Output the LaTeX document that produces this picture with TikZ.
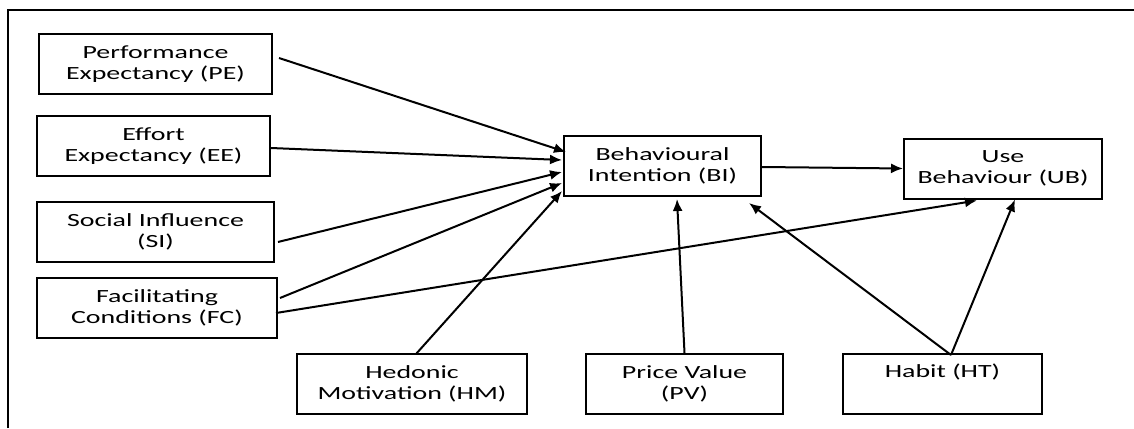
\documentclass[tikz,border=0pt]{standalone}
\usepackage{fontspec}
\setmainfont{Carlito}[FakeStretch=1.5]
\usetikzlibrary{arrows.meta,calc,scopes}

\begin{document}
\begin{tikzpicture}[x=0.5pt,y=-0.5pt,
    box/.style={rectangle,draw=black,line width=1pt,minimum height=30pt,inner sep=0pt,align=center,font=\fontsize{9.3}{10.5}\selectfont},
    link/.style={line width=1pt,-{Latex[length=6pt,width=5pt]}}]
        \useasboundingbox (0,0) rectangle (1134,428);
        \draw[line width=1pt] (8,428) -- (8,10) -- (1134,10);

        \node[box,minimum width=116.5pt] (pe) at (155.5,64) {Performance\\Expectancy (PE)};
        \node[box,minimum width=116.5pt] (ee) at (153.5,146) {Effort\\Expectancy (EE)};
        \node[box,minimum width=118.5pt] (si) at (155.5,232) {Social Influence\\(SI)};
        \node[box,minimum width=120pt] (fc) at (157,308) {Facilitating\\Conditions (FC)};
        \node[box,minimum width=115pt] (hm) at (412,384) {Hedonic\\Motivation (HM)};
        \node[box,minimum width=98.5pt] (pv) at (684.5,384) {Price Value\\(PV)};
        \node[box,minimum width=99.5pt] (ht) at (942.5,384) {Habit (HT)\\\strut};
        \node[box,minimum width=98.5pt] (bi) at (662.5,166) {Behavioural\\Intention (BI)};
        \node[box,minimum width=99pt] (ub) at (1003,168.5) {Use\\Behaviour (UB)};

        {[link]
        \draw ($(pe.east)+(6,-6)$) -- ($(bi.west)+(3,-14)$);
        \draw ($(ee.east)+(0,2)$) -- ($(bi.west)+(-1,-6)$);
        \draw ($(si.east)+(3,10)$) -- ($(bi.west)+(-1,6)$);
        \draw ($(fc.east)+(2,-10)$) -- ($(bi.west)+(-1,17)$);
        \draw ($(hm.north)+(4,1)$) -- ($(bi.south west)+(-1,-6)$);
        \draw ($(fc.east)+(-2,5)$) -- ($(ub.south)+(-26,1)$);
        \draw (pv.north) -- ($(bi.south)+(14.5,2)$);
        \draw ($(ht.north)+(8.5,2)$) -- ($(bi.south east)+(-13,6)$);
        \draw ($(ht.north)+(8.5,2)$) -- ($(ub.south)+(12,0)$);
        \draw ($(bi.east)+(0,1)$) -- (ub.west);
        }
\end{tikzpicture}
\end{document}
